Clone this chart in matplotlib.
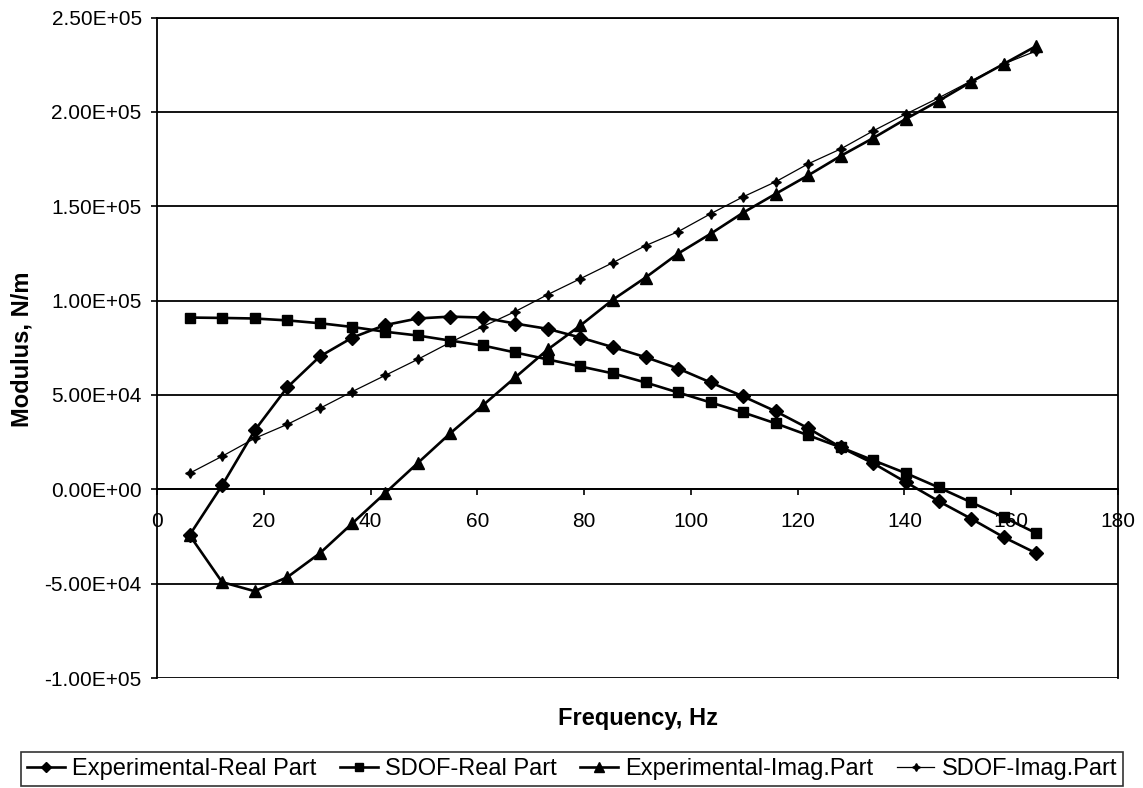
import matplotlib
matplotlib.use("Agg")
import matplotlib.pyplot as plt
from matplotlib.ticker import FuncFormatter, MultipleLocator

plt.rcParams['font.family'] = ['Liberation Sans', 'DejaVu Sans']

freq = [6.1, 12.2, 18.3, 24.4, 30.5, 36.6, 42.7, 48.8, 54.9, 61.0, 67.1, 73.2,
        79.3, 85.4, 91.5, 97.6, 103.7, 109.8, 115.9, 122.0, 128.1, 134.2, 140.3,
        146.4, 152.5, 158.6, 164.7]

exp_real = [-24300, 2100, 31200, 54000, 70400, 80400, 87000, 90500, 91500, 91000,
            87800, 85000, 80400, 75300, 70000, 64000, 56600, 49200, 41300, 32300,
            22200, 13700, 3700, -6300, -15600, -25400, -33900]
sdof_real = [91000, 90800, 90500, 89500, 88000, 86000, 83500, 81500, 78800, 76200,
             72500, 68800, 65100, 61400, 56600, 51300, 46000, 40700, 34900, 28600,
             22200, 15300, 8500, 1000, -6900, -14800, -23300]
exp_imag = [-24300, -49200, -54000, -46600, -33900, -18000, -2100, 13800, 29600, 44400,
            59300, 74100, 86800, 100500, 112200, 124900, 135400, 146600, 156600, 166400,
            176700, 186200, 196300, 205800, 215900, 225400, 234900]
sdof_imag = [8500, 17500, 27000, 34400, 42900, 51800, 60300, 68800, 77800, 86200,
             94200, 103200, 111600, 120100, 129100, 136500, 146000, 155000, 163000, 172500,
             180400, 190000, 198900, 207400, 216400, 225400, 232300]

labels = ["Experimental-Real Part", "SDOF-Real Part", "Experimental-Imag.Part", "SDOF-Imag.Part"]

fig = plt.figure(figsize=(11.43, 7.88), dpi=100)
ax = fig.add_axes([157/1143, 1 - 678/788, (1118-157)/1143, (678-17.5)/788])

ax.plot(freq, exp_real, color='black', lw=1.9, marker='D', ms=7, label=labels[0])
ax.plot(freq, sdof_real, color='black', lw=1.9, marker='s', ms=7.5, label=labels[1])
ax.plot(freq, exp_imag, color='black', lw=1.9, marker='^', ms=8.5, label=labels[2])
ax.plot(freq, sdof_imag, color='black', lw=0.9, marker=(4, 1, 0), ms=7, label=labels[3])

ax.set_xlim(0, 180)
ax.set_ylim(-100000, 250000)
ax.xaxis.set_major_locator(MultipleLocator(20))
ax.yaxis.set_major_locator(MultipleLocator(50000))
ax.yaxis.set_major_formatter(FuncFormatter(lambda v, p: f"{v:.2E}"))
ax.grid(axis='y', color='black', lw=1.3)
ax.set_axisbelow(True)

ax.spines['bottom'].set_position(('data', 0))
for s in ax.spines.values():
    s.set_color('black')
    s.set_linewidth(1.3)

ax.tick_params(axis='x', direction='out', length=4, width=1.2, pad=12, labelsize=15)
ax.tick_params(axis='y', direction='out', length=4, width=1.2, pad=7, labelsize=15)

fig.text(638/1143, 1 - 718/788, "Frequency, Hz", ha='center', va='center',
         fontsize=17, fontweight='bold')
fig.text(22/1143, 1 - 349/788, "Modulus, N/m", ha='center', va='center',
         rotation=90, fontsize=17, fontweight='bold')

leg = fig.legend(loc='center', bbox_to_anchor=(572/1143, 1 - 769/788), ncol=4,
                 fontsize=17, frameon=True, fancybox=False, edgecolor='black',
                 handlelength=1.6, handletextpad=0.3, columnspacing=1.0,
                 borderpad=0.25, borderaxespad=0, markerscale=0.8)
leg.get_frame().set_linewidth(1.2)

fig.savefig("out.png", dpi=100)
